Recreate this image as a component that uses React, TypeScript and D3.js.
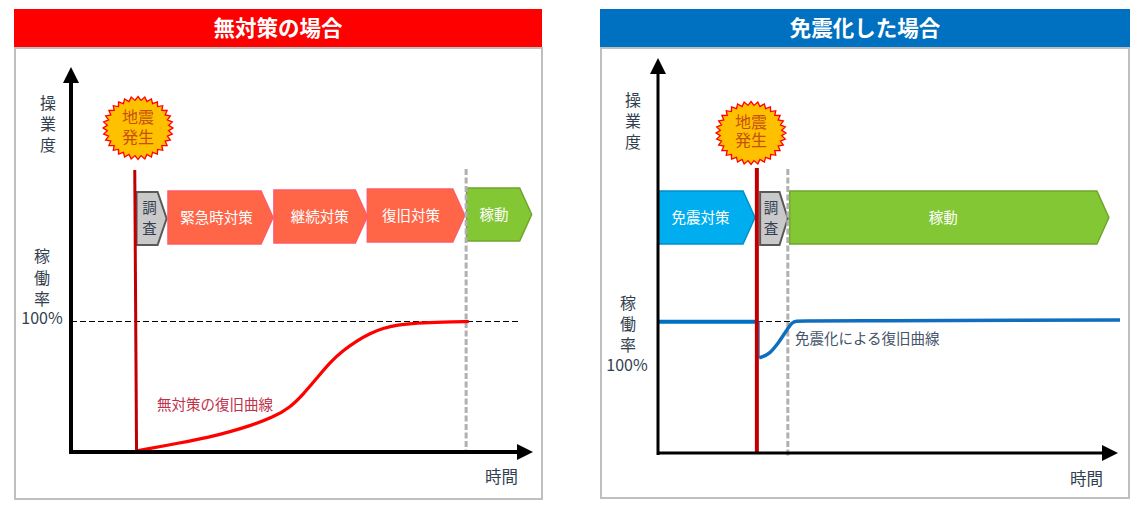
import React from "react";
import * as d3 from "d3";

const FONT = '"Noto Sans CJK JP", "Noto Sans", sans-serif';

// Recovery curve, no countermeasure: time (0-100), operating rate (%)
const leftTimes = [14.5, 24.3, 31, 35.4, 39.9, 45, 48.8, 51.7, 54.8, 57.7, 60.6, 63.7, 66.6, 69.5, 72.6, 77, 82.9, 88.6];
const leftRates = [0.8, 6.9, 11.5, 15.5, 20, 26.5, 34, 44, 56.5, 68.5, 77.5, 85, 90.6, 94.5, 97, 98.4, 99.3, 99.6];

// Recovery curve, seismic isolation
const rightBeforeTimes = [0, 21.4];
const rightBeforeRates = [99.4, 99.4];
const rightTimes = [21.9, 24.2, 26, 27.9, 29, 30, 32, 50, 100];
const rightRates = [72.2, 76, 83.3, 93.2, 98.3, 99.8, 100, 100.2, 100.8];

// Phases: label, start, end, kind
const leftPhases = ["調査", "緊急時対策", "継続対策", "復旧対策", "稼動"];
const leftStarts = [14.6, 21.6, 45.2, 66, 88.1];
const leftEnds = [21.3, 45, 66, 87.7, 102.6];
const leftKinds = ["survey", "red", "red", "red", "green"];
const leftTops = [192, 191, 190, 189, 188];

const rightPhases = ["免震対策", "調査", "稼動"];
const rightStarts = [0, 22.1, 28.5];
const rightEnds = [21, 28.1, 97.6];
const rightKinds = ["blue", "survey", "green"];
const rightTops = [191, 192, 191];

const phaseFill: Record<string, string> = { survey: "#c9c9c9", red: "#ff6647", green: "#83c735", blue: "#00aeef" };
const phaseStroke: Record<string, string> = { survey: "#595959", red: "#ff5a66", green: "#6fa52a", blue: "#0090c8" };
const phaseText: Record<string, string> = { survey: "#333f50", red: "#ffffff", green: "#ffffff", blue: "#ffffff" };

type PanelProps = {
  title: string; titleFill: string; barX: [number, number]; frameX: [number, number]; frameY: [number, number];
  xRange: [number, number]; yRange: [number, number]; axisW: number; axisTop: number; axisRight: number;
  quakeT: [number, number]; quakeTop: number; quakeW: number; restoreT: number; restoreBottom: number;
  star: [number, number]; starDy: [number, number]; labels: { t: string; x: number; y: number; s?: number }[];
  curveLabel: { t: string; x: number; y: number; c: string };
  phases: string[]; starts: number[]; ends: number[]; kinds: string[]; tops: number[]; phaseH: number; labelDx: number[];
  dashEnd: number; children: (x: d3.ScaleLinear<number, number>, y: d3.ScaleLinear<number, number>) => React.ReactNode;
};

function Star({ cx, cy, dy }: { cx: number; cy: number; dy: [number, number] }) {
  const n = 32;
  const pts: [number, number][] = d3.range(n * 2).map((i) => {
    const a = (i / (n * 2)) * 2 * Math.PI;
    const k = i % 2 === 0 ? 1 : 0.88;
    return [cx + 35 * k * Math.sin(a), cy - 31.5 * k * Math.cos(a)];
  });
  return (
    <g>
      <polygon points={pts.map((q) => q.join(",")).join(" ")} fill="#ffc000" stroke="#ff0000" strokeWidth={1.3} />
      <text x={cx} y={cy + dy[0]} textAnchor="middle" fontSize={16} fill="#c5500f">地震</text>
      <text x={cx} y={cy + dy[1]} textAnchor="middle" fontSize={16} fill="#c5500f">発生</text>
    </g>
  );
}

function Panel(p: PanelProps) {
  const x = d3.scaleLinear().domain([0, 100]).range(p.xRange);
  const y = d3.scaleLinear().domain([0, 100]).range(p.yRange);
  const x0 = p.xRange[0];
  const y0 = p.yRange[0];
  const hw = 8;
  const mid = (p.barX[0] + p.barX[1]) / 2;
  return (
    <g fontFamily={FONT}>
      <rect x={p.frameX[0]} y={p.frameY[0]} width={p.frameX[1] - p.frameX[0]} height={p.frameY[1] - p.frameY[0]} fill="#fff" stroke="#bfbfbf" strokeWidth={2} />
      <rect x={p.barX[0]} y={9} width={p.barX[1] - p.barX[0]} height={38} fill={p.titleFill} />
      <text x={mid} y={35.5} textAnchor="middle" fill="#fff" fontSize={21.5} fontWeight={700}>{p.title}</text>

      {p.labels.map((l, i) => (
        <text key={i} x={l.x} y={l.y} textAnchor="middle" fontSize={l.s ?? 16} fill="#333f50">{l.t}</text>
      ))}

      <line x1={x(0)} x2={p.dashEnd} y1={321.5} y2={321.5} stroke="#000" strokeWidth={1} strokeDasharray="6 3" shapeRendering="crispEdges" />

      {p.phases.map((name, i) => {
        const l = x(p.starts[i]);
        const r = x(p.ends[i]);
        const t = p.tops[i];
        const b = t + p.phaseH;
        const notch = Math.min(12, (r - l) * 0.3);
        const k = p.kinds[i];
        const survey = k === "survey";
        const cx = (l + r) / 2 + p.labelDx[i];
        return (
          <g key={name + i}>
            <path d={`M${l},${t}H${r - notch}L${r},${(t + b) / 2}L${r - notch},${b}H${l}Z`} fill={phaseFill[k]} stroke={phaseStroke[k]} strokeWidth={survey ? 2 : 1.5} />
            {survey ? (
              <>
                <text x={cx} y={(t + b) / 2 - 6} textAnchor="middle" fontSize={14.5} fill={phaseText[k]}>{name[0]}</text>
                <text x={cx} y={(t + b) / 2 + 15} textAnchor="middle" fontSize={14.5} fill={phaseText[k]}>{name[1]}</text>
              </>
            ) : (
              <text x={cx} y={(t + b) / 2 + 5} textAnchor="middle" fontSize={14.5} fill={phaseText[k]}>{name}</text>
            )}
          </g>
        );
      })}

      <line x1={x(p.restoreT)} x2={x(p.restoreT)} y1={169} y2={p.restoreBottom} stroke="#b0b0b0" strokeWidth={3} strokeDasharray="6 2.5" />

      {p.children(x, y)}

      <line x1={x(p.quakeT[0])} x2={x(p.quakeT[1])} y1={p.quakeTop} y2={y0} stroke="#c00000" strokeWidth={p.quakeW} />

      <line x1={x0} x2={x0} y1={y0 + 2} y2={p.axisTop + 12} stroke="#000" strokeWidth={p.axisW} />
      <path d={`M${x0 - hw},${p.axisTop + 16}L${x0},${p.axisTop}L${x0 + hw},${p.axisTop + 16}Z`} fill="#000" />
      <line x1={x0 - 1} x2={p.axisRight - 12} y1={y0} y2={y0} stroke="#000" strokeWidth={p.axisW} />
      <path d={`M${p.axisRight - 16},${y0 - hw}L${p.axisRight},${y0}L${p.axisRight - 16},${y0 + hw}Z`} fill="#000" />

      <Star cx={p.star[0]} cy={p.star[1]} dy={p.starDy} />
      <text x={p.curveLabel.x} y={p.curveLabel.y} fontSize={14.5} fill={p.curveLabel.c}>{p.curveLabel.t}</text>
    </g>
  );
}

export default function App() {
  const lineGen = (
    x: d3.ScaleLinear<number, number>,
    y: d3.ScaleLinear<number, number>,
    ts: number[],
    vs: number[],
    curve: d3.CurveFactory,
  ) =>
    d3.line<number>()
      .x((d) => x(d))
      .y((_, i) => y(vs[i]))
      .curve(curve)(ts) ?? "";

  return (
    <svg width={1148} height={506} style={{ position: "absolute", left: 0, top: 0, background: "#fff" }}>
      <Panel
        title="無対策の場合" titleFill="#ff0000" barX={[14, 542]} frameX={[15, 542]} frameY={[48, 499]}
        xRange={[71, 520]} yRange={[452, 321]} axisW={4} axisTop={67} axisRight={533}
        quakeT={[14.2, 14.6]} quakeTop={170} quakeW={3} restoreT={88.0} restoreBottom={452}
        star={[138, 128]} starDy={[-5, 15]}
        labels={[
          { t: "操", x: 48, y: 109 }, { t: "業", x: 48, y: 130 }, { t: "度", x: 48, y: 151 },
          { t: "稼", x: 42, y: 262 }, { t: "働", x: 42, y: 284 }, { t: "率", x: 42, y: 305 },
          { t: "100%", x: 42, y: 324, s: 16 }, { t: "時間", x: 501.5, y: 483, s: 16.5 },
        ]}
        curveLabel={{ t: "無対策の復旧曲線", x: 157, y: 410, c: "#c0304a" }}
        phases={leftPhases} starts={leftStarts} ends={leftEnds} kinds={leftKinds} tops={leftTops} phaseH={53}
        labelDx={[-2, -4, -1, -5, -5]}
        dashEnd={518}
      >
        {(x, y) => <path d={lineGen(x, y, leftTimes, leftRates, d3.curveBasis)} fill="none" stroke="#ff0000" strokeWidth={3.2} />}
      </Panel>
      <Panel
        title="免震化した場合" titleFill="#0070c0" barX={[600, 1130]} frameX={[601, 1129]} frameY={[48, 498]}
        xRange={[658, 1120]} yRange={[453, 321]} axisW={3} axisTop={58} axisRight={1118}
        quakeT={[21.4, 21.4]} quakeTop={168} quakeW={4} restoreT={28.1} restoreBottom={457}
        star={[751, 133]} starDy={[-5, 13]}
        labels={[
          { t: "操", x: 633, y: 106 }, { t: "業", x: 633, y: 127 }, { t: "度", x: 633, y: 148 },
          { t: "稼", x: 628, y: 309 }, { t: "働", x: 628, y: 330 }, { t: "率", x: 628, y: 351 },
          { t: "100%", x: 627, y: 371, s: 16 }, { t: "時間", x: 1086.5, y: 485, s: 16.5 },
        ]}
        curveLabel={{ t: "免震化による復旧曲線", x: 795, y: 344, c: "#44546a" }}
        phases={rightPhases} starts={rightStarts} ends={rightEnds} kinds={rightKinds} tops={rightTops} phaseH={53}
        labelDx={[-6, -3, -6]}
        dashEnd={790}
      >
        {(x, y) => (
          <>
            <path d={lineGen(x, y, rightBeforeTimes, rightBeforeRates, d3.curveLinear)} fill="none" stroke="#0070c0" strokeWidth={4} />
            <line x1={x(21.9)} x2={x(21.9)} y1={y(100)} y2={y(72.2)} stroke="#0070c0" strokeWidth={1} />
            <path d={lineGen(x, y, rightTimes, rightRates, d3.curveMonotoneX)} fill="none" stroke="#0f6fbe" strokeWidth={3.5} />
          </>
        )}
      </Panel>
    </svg>
  );
}
